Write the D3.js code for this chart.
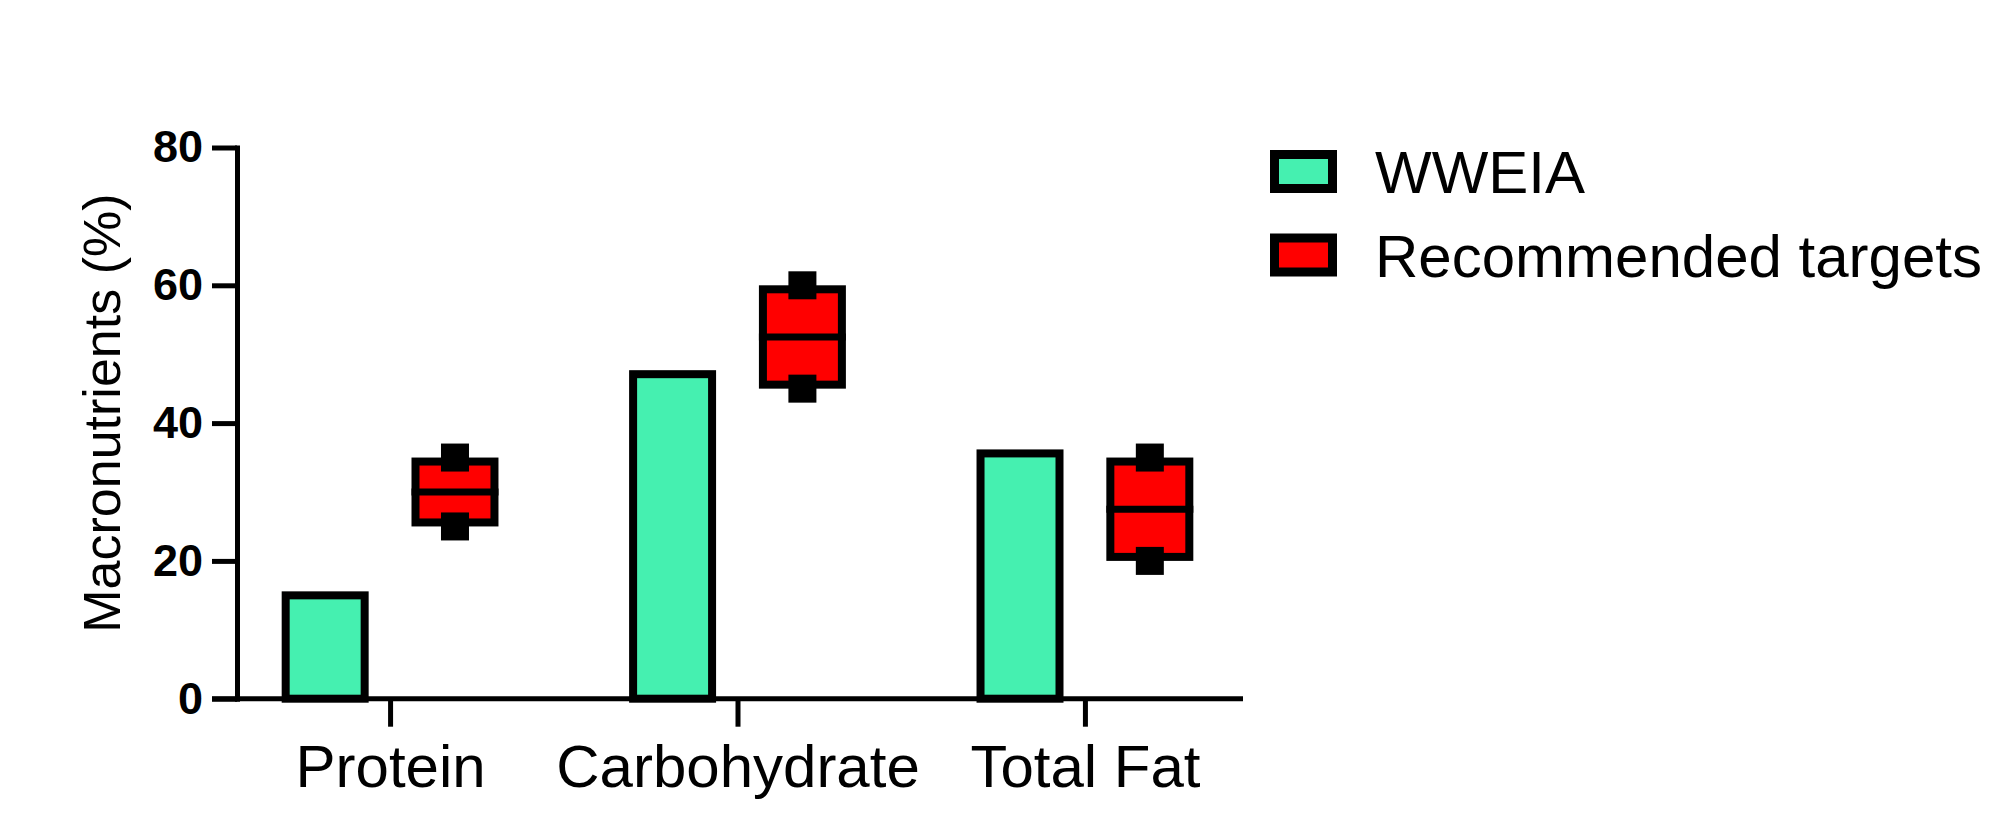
<!DOCTYPE html>
<html>
<head>
<meta charset="utf-8">
<script src="https://cdn.jsdelivr.net/npm/d3@7"></script>
<style>
  html, body { margin: 0; padding: 0; background: #fff; }
  svg { display: block; font-family: "Liberation Sans", Arial, sans-serif; }
</style>
</head>
<body>
<svg id="chart" width="2014" height="834"></svg>
<script>
// ---- data ----
const categories = ["Protein", "Carbohydrate", "Total Fat"];
const wweiaValues = [15, 47.1, 35.6];
const targetLow = [25, 45, 20];
const targetHigh = [35, 60, 35];
const targetMid = [30, 52.5, 27.5];
const seriesNames = ["WWEIA", "Recommended targets"];
const yTicks = [0, 20, 40, 60, 80];

const GREEN = "#45F0B0";
const RED = "#FF0000";

const svg = d3.select("#chart");

// ---- layout ----
const yAxisX = 237;
const yTickLen = 25;
const x = d3.scalePoint().domain(categories).range([232, 1243]).padding(0.455);
const y = d3.scaleLinear().domain([0, 80]).range([698.7, 147.5]);
const step = x.step();
const x1 = d3.scaleBand().domain(seriesNames)
  .range([-0.312 * step, 0.312 * step]).paddingInner(0.33).paddingOuter(0);
const bw = x1.bandwidth();
const sw = 8;

// ---- WWEIA bars ----
svg.append("g").selectAll("rect")
  .data(categories.map((c, i) => ({ c, v: wweiaValues[i] })))
  .join("rect")
  .attr("x", d => x(d.c) + x1("WWEIA") + sw / 2)
  .attr("width", bw - sw)
  .attr("y", d => y(d.v))
  .attr("height", d => y(0) - y(d.v))
  .attr("fill", GREEN)
  .attr("stroke", "#000")
  .attr("stroke-width", sw);

// ---- Recommended target floating boxes ----
const tdata = categories.map((c, i) => ({ c, lo: targetLow[i], hi: targetHigh[i], mid: targetMid[i] }));
const tg = svg.append("g").selectAll("g").data(tdata).join("g");
tg.append("rect")
  .attr("x", d => x(d.c) + x1("Recommended targets") + sw / 2)
  .attr("width", bw - sw)
  .attr("y", d => y(d.hi) + sw / 2)
  .attr("height", d => y(d.lo) - y(d.hi) - sw)
  .attr("fill", RED)
  .attr("stroke", "#000")
  .attr("stroke-width", sw);
tg.append("line")
  .attr("x1", d => x(d.c) + x1("Recommended targets"))
  .attr("x2", d => x(d.c) + x1("Recommended targets") + bw)
  .attr("y1", d => y(d.mid))
  .attr("y2", d => y(d.mid))
  .attr("stroke", "#000")
  .attr("stroke-width", 7);
const capSize = 28;
["hi", "lo"].forEach(k => {
  tg.append("rect")
    .attr("x", d => x(d.c) + x1("Recommended targets") + bw / 2 - capSize / 2)
    .attr("y", d => y(d[k]) - capSize / 2)
    .attr("width", capSize)
    .attr("height", capSize)
    .attr("fill", "#000");
});

// ---- y axis ----
const yAxis = svg.append("g")
  .attr("transform", `translate(${yAxisX},0)`)
  .call(d3.axisLeft(y).tickValues(yTicks).tickSize(yTickLen).tickSizeOuter(0).tickPadding(9));
yAxis.select(".domain").attr("stroke", "#000").attr("stroke-width", 5).attr("stroke-linecap", "square");
yAxis.selectAll(".tick line").attr("stroke", "#000").attr("stroke-width", 5);
yAxis.selectAll(".tick text")
  .attr("fill", "#000")
  .style("font-size", "45px")
  .style("font-weight", "bold")
  .style("font-family", "'Liberation Sans', Arial, sans-serif");

// ---- x axis ----
const xAxis = svg.append("g")
  .attr("transform", `translate(0,${y(0)})`)
  .call(d3.axisBottom(x).tickSize(28).tickSizeOuter(0).tickPadding(18));
xAxis.select(".domain")
  .attr("d", `M${yAxisX - yTickLen},0H${x.range()[1]}`)
  .attr("stroke", "#000").attr("stroke-width", 5);
xAxis.selectAll(".tick line").attr("stroke", "#000").attr("stroke-width", 5);
xAxis.selectAll(".tick text")
  .attr("fill", "#000")
  .style("font-size", "60px")
  .style("font-family", "'Liberation Sans', Arial, sans-serif");

// ---- y axis title ----
svg.append("text")
  .attr("transform", `translate(120,${(y(0) + y(80)) / 2 - 10}) rotate(-90)`)
  .attr("text-anchor", "middle")
  .style("font-size", "52px")
  .attr("fill", "#000")
  .text("Macronutrients (%)");

// ---- legend ----
const legendColors = [GREEN, RED];
const lg = svg.append("g").attr("transform", "translate(1270,150)");
const items = lg.selectAll("g").data(seriesNames).join("g")
  .attr("transform", (d, i) => `translate(0,${i * 83.5})`);
items.append("rect")
  .attr("x", 4.5).attr("y", 4.5)
  .attr("width", 58).attr("height", 34)
  .attr("fill", (d, i) => legendColors[i])
  .attr("stroke", "#000").attr("stroke-width", 9);
items.append("text")
  .attr("x", 105).attr("y", 43)
  .style("font-size", "60px")
  .attr("fill", "#000")
  .text(d => d);
</script>
</body>
</html>
